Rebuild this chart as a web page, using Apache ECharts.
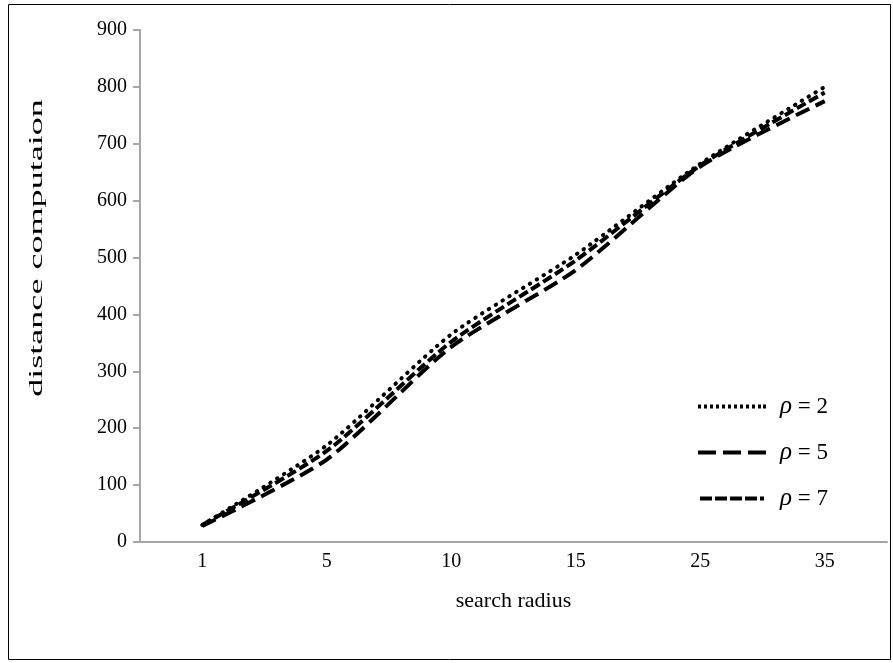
<!DOCTYPE html>
<html>
<head>
<meta charset="utf-8">
<script src="https://cdn.jsdelivr.net/npm/echarts@6/dist/echarts.min.js"></script>
<style>
html,body{margin:0;padding:0;background:#fff;}
#c{width:893px;height:663px;}
</style>
</head>
<body>
<div id="c"></div>
<script>
const categories = ['1', '5', '10', '15', '25', '35'];
const rho2 = [30, 170, 365, 505, 665, 800];
const rho5 = [28, 145, 343, 478, 660, 775];
const rho7 = [30, 160, 352, 495, 662, 790];
const yTicks = [0, 900, 100];
const seriesNames = ['ρ = 2', 'ρ = 5', 'ρ = 7'];

const font = 'Liberation Serif, Times New Roman, serif';
const chart = echarts.init(document.getElementById('c'), null, {renderer: 'canvas'});
function mk(name, data, dash, cap) {
  return {
    name: name, type: 'line', data: data, smooth: 0.22,
    symbol: 'none', showSymbol: false,
    lineStyle: {color: '#000', width: 4, type: dash, cap: cap},
    itemStyle: {color: '#000'}
  };
}
// legend icons: dash patterns drawn as small filled bars
function bars(list) {
  return 'path://' + list.map(function (b) { return 'M' + b[0] + ',0h' + b[1] + 'v4h-' + b[1] + 'z'; }).join(' ');
}
const dotIcon = bars([[0,3],[6,3],[12,3],[18,3],[24,3],[30,3],[36,3],[42,3],[48,3],[54,3],[60,3],[65,3]]);
const longIcon = bars([[0,18],[25,18],[50,18]]);
const shortIcon = bars([[0,12],[15,12],[30,12],[45,12],[60,4]]);

chart.setOption({
  animation: false,
  graphic: [
    {type: 'rect', shape: {x: 8.5, y: 4.5, width: 882, height: 655}, style: {fill: 'none', stroke: '#000', lineWidth: 1}},
    {type: 'text', x: 37, y: 248, rotation: Math.PI / 2, scaleX: 1.9,
     style: {text: 'distance computaion', x: 0, y: 0, align: 'center', verticalAlign: 'middle',
             fontFamily: font, fontSize: 19, fill: '#000'}}
  ],
  grid: {left: 140, right: 6, top: 30, bottom: 121},
  legend: {
    orient: 'vertical', left: 693, top: 389, itemGap: 21,
    itemWidth: 68, itemHeight: 4,
    data: [
      {name: seriesNames[0], icon: dotIcon},
      {name: seriesNames[1], icon: longIcon},
      {name: seriesNames[2], icon: shortIcon}
    ],
    itemStyle: {color: '#000'},
    formatter: function (n) { return '{i|ρ}' + n.slice(1); },
    textStyle: {fontFamily: font, fontSize: 23, lineHeight: 24, color: '#000', padding: [0, 0, 0, 9],
                rich: {i: {fontFamily: font, fontStyle: 'italic', fontSize: 25, lineHeight: 24, color: '#000'}}}
  },
  xAxis: {
    type: 'category', data: categories, boundaryGap: true,
    name: 'search radius', nameLocation: 'middle', nameGap: 48,
    nameTextStyle: {fontFamily: font, fontSize: 22, color: '#000'},
    axisLine: {lineStyle: {color: '#a6a6a6', width: 2}},
    axisTick: {length: 7, lineStyle: {color: '#a6a6a6', width: 2}},
    axisLabel: {fontFamily: font, fontSize: 20, color: '#000', margin: 10}
  },
  yAxis: {
    type: 'value', min: yTicks[0], max: yTicks[1], interval: yTicks[2],
    axisLine: {show: true, lineStyle: {color: '#a6a6a6', width: 2}},
    axisTick: {show: true, length: 7, lineStyle: {color: '#a6a6a6', width: 2}},
    splitLine: {show: false},
    axisLabel: {fontFamily: font, fontSize: 20, color: '#000', margin: 13}
  },
  series: [
    mk(seriesNames[0], rho2, [0.5, 7.5], 'round'),
    mk(seriesNames[1], rho5, [15, 7], 'butt'),
    mk(seriesNames[2], rho7, [10, 4], 'butt')
  ]
});
</script>
</body>
</html>
